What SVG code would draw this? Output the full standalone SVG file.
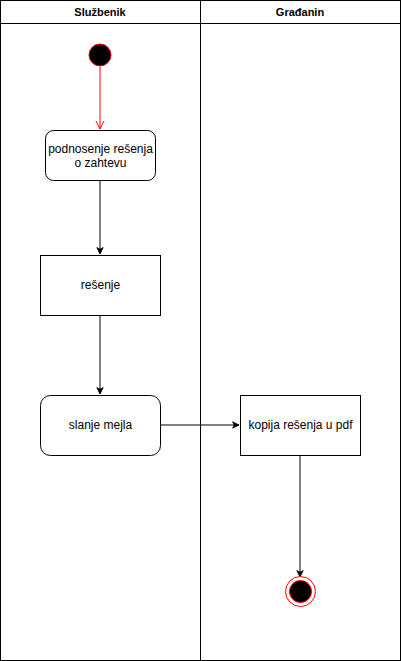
<svg xmlns="http://www.w3.org/2000/svg" width="401" height="661" viewBox="0 0 401 661">
<style>
text{font-family:"Liberation Sans",Arial,sans-serif;font-size:12px;fill:#000;text-anchor:middle}
.hdr{font-weight:bold;font-size:11px}
.box{fill:#fff;stroke:#000;stroke-width:1}
.edge{fill:none;stroke:#000;stroke-width:1}
</style>
<defs>
<marker id="ab" viewBox="0 0 10 10" refX="9" refY="5" markerWidth="8" markerHeight="8" orient="auto" markerUnits="userSpaceOnUse"><path d="M1,1 L9,5 L1,9 L3,5 Z" fill="#000" stroke="#000"/></marker>
<marker id="ar" viewBox="0 0 10 10" refX="9" refY="5" markerWidth="10" markerHeight="10" orient="auto" markerUnits="userSpaceOnUse"><path d="M1,1 L9,5 L1,9" fill="none" stroke="#f00"/></marker>
</defs>
<rect width="401" height="661" fill="#fff"/>
<g id="lanes">
<rect x="0.5" y="0.5" width="400" height="660" fill="none" stroke="#000"/>
<line x1="0.5" y1="23.5" x2="400.5" y2="23.5" stroke="#000"/>
<line x1="200.5" y1="0.5" x2="200.5" y2="660.5" stroke="#000"/>
<text class="hdr" x="100" y="16">Službenik</text>
<text class="hdr" x="300" y="16">Građanin</text>
</g>
<g id="edges">
<line x1="100" y1="67" x2="100" y2="129" stroke="#f00" marker-end="url(#ar)"/>
<line class="edge" x1="100" y1="180" x2="100" y2="254" marker-end="url(#ab)"/>
<line class="edge" x1="100" y1="315" x2="100" y2="394" marker-end="url(#ab)"/>
<line class="edge" x1="160" y1="425" x2="239" y2="425" marker-end="url(#ab)"/>
<line class="edge" x1="300" y1="455" x2="300" y2="577" marker-end="url(#ab)"/>
</g>
<g id="start"><circle cx="100" cy="55" r="11" fill="#000" stroke="#f00"/></g>
<g id="n1"><rect class="box" x="45.5" y="130.5" width="110" height="50" rx="8"/><text x="100.5" y="153">podnosenje rešenja</text><text x="100.5" y="167">o zahtevu</text></g>
<g id="n2"><rect class="box" x="40.5" y="255.5" width="120" height="60"/><text x="100.5" y="289">rešenje</text></g>
<g id="n3"><rect class="box" x="40.5" y="395.5" width="120" height="60" rx="10"/><text x="100.5" y="429">slanje mejla</text></g>
<g id="n4"><rect class="box" x="240.5" y="395.5" width="120" height="60"/><text x="300.5" y="429">kopija rešenja u pdf</text></g>
<g id="end"><circle cx="300.5" cy="591.5" r="15" fill="#fff" stroke="#f00"/><circle cx="300.5" cy="591.5" r="11" fill="#000" stroke="#f00"/></g>
</svg>
